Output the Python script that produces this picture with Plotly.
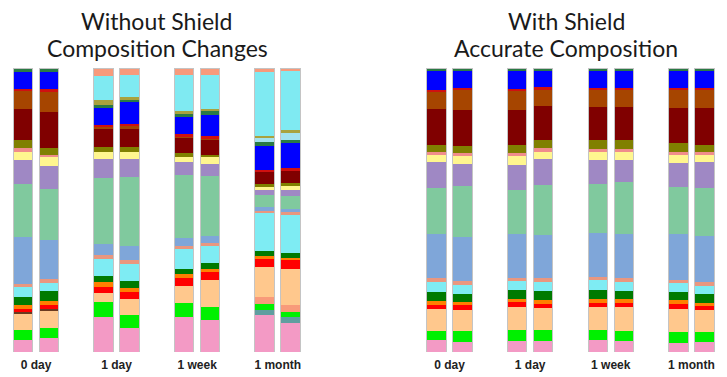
import plotly.graph_objects as go

# taxa, listed top of bar -> bottom of bar
taxa = ["salmon_top", "cyan_top", "olive_thin", "cyan_thin", "teal", "blue",
        "red_thin", "sienna", "maroon", "olive", "pink_thin", "yellow",
        "purple", "seagreen", "steelblue", "salmon_mid", "cyan", "green",
        "orange", "red", "dark_line", "peach", "salmon_low", "lime",
        "tealgray", "pink"]
colors = ["#F79A7C", "#7FEAF2", "#A9A23E", "#A3E2EE", "#2A7A45", "#0000FF",
          "#D01010", "#A64500", "#800000", "#808000", "#F08C8C", "#FFF68F",
          "#9F88C4", "#80C99E", "#7FA6D9", "#E9977F", "#7EECF3", "#007A00",
          "#FF7F00", "#FF0000", "#6B3A1F", "#FFC88D", "#F89A7A", "#00F000",
          "#5F9EA0", "#F39AC5"]

timepoints = ["0 day", "1 day", "1 week", "1 month"]

# without shield (relative abundance %, two replicates per time point)
wo_0day_a = [0, 0, 0, 0, 1.2, 6.2, 0.4, 6.5, 11.0, 2.8, 1.2, 2.9, 8.6, 18.6, 16.5, 1.2, 3.5, 2.9, 1.2, 1.2, 0.4, 5.9, 0, 3.3, 0, 4.4]
wo_0day_b = [0, 0, 0, 0, 1.2, 6.2, 0.8, 7.1, 12.6, 2.7, 0.8, 3.1, 7.9, 18.0, 13.8, 1.4, 2.9, 3.5, 1.5, 1.2, 0.6, 6.1, 0, 3.6, 0, 4.9]
wo_1day_a = [2.9, 8.5, 1.5, 0, 1.2, 5.9, 0.7, 0.8, 6.4, 1.8, 0, 2.4, 6.8, 23.2, 3.9, 1.4, 6.0, 2.0, 1.8, 2.0, 0, 3.3, 0, 5.3, 0, 12.2]
wo_1day_b = [2.4, 7.9, 0.9, 0, 0.9, 7.5, 0.9, 1.0, 6.4, 1.5, 0, 2.7, 6.4, 24.2, 4.9, 1.5, 5.8, 2.4, 1.5, 2.4, 0, 5.9, 0, 4.4, 0, 8.5]
wo_1week_a = [2.4, 12.6, 1.2, 0, 1.2, 5.9, 0.7, 0.8, 5.3, 1.2, 0, 1.8, 4.7, 22.0, 2.7, 1.2, 7.1, 1.8, 1.2, 2.9, 0, 5.9, 0, 5.1, 0, 12.3]
wo_1week_b = [2.4, 12.1, 0.8, 0, 1.2, 7.6, 0.6, 0.6, 5.3, 0.8, 0, 2.4, 4.2, 21.2, 2.4, 1.2, 5.9, 2.0, 1.2, 2.9, 0, 9.4, 0, 4.5, 0, 11.3]
wo_1month_a = [1.5, 22.4, 0.9, 1.1, 1.5, 8.5, 0.6, 0, 4.4, 0.7, 0, 1.2, 2.0, 4.1, 1.4, 0.9, 13.2, 1.9, 0.8, 2.9, 0, 10.8, 2.4, 1.9, 2.0, 12.9]
wo_1month_b = [1.2, 20.8, 0.9, 2.4, 1.2, 8.8, 0.8, 0, 4.5, 0.6, 0, 1.8, 2.1, 4.4, 1.2, 1.2, 13.3, 1.6, 0.7, 3.2, 0, 12.9, 2.4, 1.5, 2.4, 10.1]

# with shield
w_0day_a = [0, 0, 0, 0, 1.2, 6.5, 0.6, 6.2, 12.5, 2.6, 1.2, 2.4, 9.2, 16.2, 15.4, 1.5, 3.2, 3.2, 1.5, 1.5, 0, 7.6, 0, 3.3, 0, 4.2]
w_0day_b = [0, 0, 0, 0, 1.2, 5.9, 0.8, 6.9, 12.7, 2.4, 1.2, 2.7, 7.9, 17.8, 15.4, 1.5, 3.0, 3.0, 1.2, 1.5, 0, 7.6, 0, 3.9, 0, 3.4]
w_1day_a = [0, 0, 0, 0, 1.2, 6.2, 0.6, 6.9, 12.2, 2.8, 1.2, 3.1, 8.8, 15.4, 15.4, 1.2, 3.3, 3.0, 1.2, 1.5, 0, 8.3, 0, 4.0, 0, 3.7]
w_1day_b = [0, 0, 0, 0, 0.9, 5.9, 0.8, 5.9, 11.8, 3.0, 1.2, 2.6, 9.0, 17.8, 15.0, 1.5, 3.2, 3.2, 1.2, 1.5, 0, 7.9, 0, 3.9, 0, 3.7]
w_1week_a = [0, 0, 0, 0, 1.2, 5.7, 0.6, 6.2, 11.8, 3.0, 1.2, 2.6, 8.6, 17.2, 15.4, 1.2, 3.5, 3.0, 1.5, 1.4, 0, 8.3, 0, 3.3, 0, 4.3]
w_1week_b = [0, 0, 0, 0, 1.2, 5.7, 0.6, 6.2, 11.8, 3.0, 1.2, 2.6, 8.0, 18.0, 15.7, 1.5, 3.0, 3.0, 1.2, 1.4, 0, 8.5, 0, 3.5, 0, 3.9]
w_1month_a = [0, 0, 0, 0, 1.2, 5.9, 0.6, 6.3, 12.3, 3.1, 1.4, 2.6, 8.6, 16.6, 16.0, 1.2, 3.0, 3.0, 1.2, 1.8, 0, 8.3, 0, 3.6, 0, 3.3]
w_1month_b = [0, 0, 0, 0, 1.2, 5.7, 0.5, 6.6, 13.0, 2.6, 1.2, 2.4, 9.2, 16.8, 16.0, 1.5, 2.8, 3.1, 1.2, 1.4, 0, 7.7, 0, 3.6, 0, 3.5]

without_bars = [wo_0day_a, wo_0day_b, wo_1day_a, wo_1day_b,
                wo_1week_a, wo_1week_b, wo_1month_a, wo_1month_b]
with_bars = [w_0day_a, w_0day_b, w_1day_a, w_1day_b,
             w_1week_a, w_1week_b, w_1month_a, w_1month_b]

group_gap = 3.1
xpos = [g * group_gap + j for g in range(4) for j in range(2)]
tick_x = [g * group_gap + 0.5 for g in range(4)]
bar_w = 0.75

fig = go.Figure()

for bars, xa, ya, ya_out in [(without_bars, "x", "y", "y3"), (with_bars, "x2", "y2", "y4")]:
    # stack from bottom up
    for k in reversed(range(len(taxa))):
        fig.add_trace(go.Bar(
            x=xpos, y=[b[k] for b in bars], width=bar_w,
            marker=dict(color=colors[k], line=dict(width=0)),
            name=taxa[k], xaxis=xa, yaxis=ya, showlegend=False, hoverinfo="skip"))
    # thin grey outline round each whole bar
    fig.add_trace(go.Bar(
        x=xpos, y=[sum(b) for b in bars], width=bar_w,
        marker=dict(color="rgba(0,0,0,0)", line=dict(color="#c4c4c4", width=1)),
        xaxis=xa, yaxis=ya_out, showlegend=False, hoverinfo="skip"))

tickfont = dict(family="Liberation Sans, Arial", size=12, color="#222", weight="bold")
yax = dict(range=[0, 100], visible=False, fixedrange=True)
titlefont = dict(family="Lato", size=23, color="#1a1a1a")


def title_line(text, x_px, y_px):
    return dict(text=text, x=x_px / 727, y=(352 - y_px) / 284,
                xref="paper", yref="paper", xanchor="center", yanchor="middle",
                showarrow=False, font=titlefont)


fig.update_layout(
    width=727, height=377,
    margin=dict(l=0, r=0, t=68, b=25),
    barmode="stack",
    plot_bgcolor="white", paper_bgcolor="white",
    xaxis=dict(domain=[0, 0.5], range=[-0.885, 13.1], tickvals=tick_x, ticktext=timepoints,
               showgrid=False, zeroline=False, showline=False, ticks="",
               tickfont=tickfont, ticklabelstandoff=4, fixedrange=True),
    xaxis2=dict(domain=[0.5, 1], range=[-2.81, 11.17], tickvals=tick_x, ticktext=timepoints,
                showgrid=False, zeroline=False, showline=False, ticks="",
                tickfont=tickfont, ticklabelstandoff=4, fixedrange=True),
    yaxis=dict(yax, anchor="x"),
    yaxis2=dict(yax, anchor="x2"),
    yaxis3=dict(yax, anchor="x", overlaying="y"),
    yaxis4=dict(yax, anchor="x2", overlaying="y2"),
    annotations=[
        title_line("Without Shield", 156, 21),
        title_line("Composition Changes", 157, 48),
        title_line("With Shield", 566, 21),
        title_line("Accurate Composition", 566, 48),
    ],
)

fig.write_html("out.html", config={"displayModeBar": False},
               post_script="document.body.style.margin='0';")
